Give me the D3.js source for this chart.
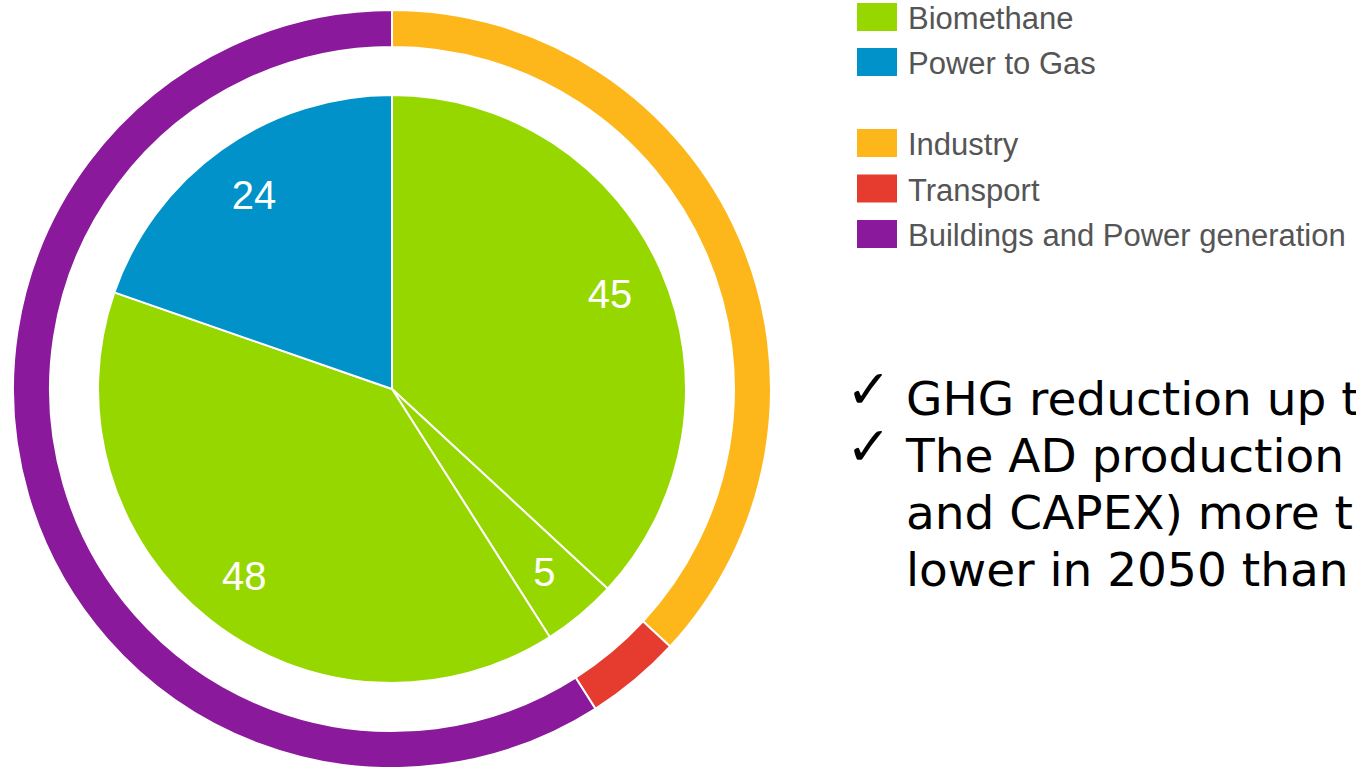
<!DOCTYPE html>
<html>
<head>
<meta charset="utf-8">
<script src="https://cdn.jsdelivr.net/npm/d3@7"></script>
<style>
  body { margin: 0; background: #fff; overflow: hidden; }
  svg { display: block; }
</style>
</head>
<body>
<div id="container"></div>
<script>
// data - inner pie (sources) and outer ring (uses)
const sourceLabels = ["Biomethane", "Biomethane", "Biomethane", "Power to Gas"];
const sourceValues = [45, 5, 48, 24];
const useLabels = ["Industry", "Transport", "Buildings and Power generation"];
const useValues = [45, 5, 72];
const legendSources = ["Biomethane", "Power to Gas"];
const legendUses = ["Industry", "Transport", "Buildings and Power generation"];
const bullets = [
  ["GHG reduction up to"],
  ["The AD production", "and CAPEX) more than", "lower in 2050 than"]
];

const width = 1356, height = 767;
const cx = 392, cy = 389;

const colorScale = d3.scaleOrdinal()
  .domain(["Biomethane", "Power to Gas", "Industry", "Transport", "Buildings and Power generation"])
  .range(["#97d700", "#0092c8", "#fdb71a", "#e63c2f", "#8a199b"]);

const svg = d3.select("#container")
  .append("svg")
  .attr("width", width)
  .attr("height", height);

const g = svg.append("g").attr("transform", `translate(${cx},${cy})`);

const pie = d3.pie().sort(null).value(d => d.value);

// inner pie
const inner = pie(sourceValues.map((v, i) => ({ label: sourceLabels[i], value: v })));
const innerArc = d3.arc().innerRadius(0).outerRadius(294);

g.selectAll("path.src")
  .data(inner)
  .join("path")
  .attr("class", "src")
  .attr("d", innerArc)
  .attr("fill", d => colorScale(d.data.label))
  .attr("stroke", "#fff")
  .attr("stroke-width", 2);

const labelArc = d3.arc().innerRadius(238).outerRadius(238);
g.selectAll("text.val")
  .data(inner)
  .join("text")
  .attr("class", "val")
  .attr("transform", d => `translate(${labelArc.centroid(d)})`)
  .attr("text-anchor", "middle")
  .attr("dy", "0.36em")
  .attr("fill", "#fff")
  .style("font-family", "Liberation Sans, Arial, sans-serif")
  .style("font-size", "40px")
  .text(d => d.data.value);

// outer ring
const outer = pie(useValues.map((v, i) => ({ label: useLabels[i], value: v })));
const outerArc = d3.arc().innerRadius(342).outerRadius(379);

g.selectAll("path.use")
  .data(outer)
  .join("path")
  .attr("class", "use")
  .attr("d", outerArc)
  .attr("fill", d => colorScale(d.data.label))
  .attr("stroke", "#fff")
  .attr("stroke-width", 2);

// legend
const legendItems = [
  ...legendSources.map((l, i) => ({ label: l, y: 3 + i * 45 })),
  ...legendUses.map((l, i) => ({ label: l, y: 129 + i * 45.5 }))
];
const legend = svg.selectAll("g.legend")
  .data(legendItems)
  .join("g")
  .attr("class", "legend")
  .attr("transform", d => `translate(857,${d.y})`);

legend.append("rect")
  .attr("width", 40)
  .attr("height", 28)
  .attr("fill", d => colorScale(d.label));

legend.append("text")
  .attr("x", 51)
  .attr("y", 15)
  .attr("dy", "0.36em")
  .attr("fill", "#555")
  .style("font-family", "Liberation Sans, Arial, sans-serif")
  .style("font-size", "31px")
  .text(d => d.label);

// bullet text
let lineY = 415;
bullets.forEach(lines => {
  svg.append("text")
    .attr("x", 846)
    .attr("y", lineY - 7)
    .style("font-family", "DejaVu Sans, sans-serif")
    .style("font-size", "54px")
    .style("font-weight", "bold")
    .attr("fill", "#000")
    .text("\u2713");
  lines.forEach(t => {
    svg.append("text")
      .attr("x", 906)
      .attr("y", lineY)
      .style("font-family", "DejaVu Sans, Verdana, sans-serif")
      .style("font-size", "47px")
      .attr("fill", "#000")
      .text(t);
    lineY += 57;
  });
});
</script>
</body>
</html>
